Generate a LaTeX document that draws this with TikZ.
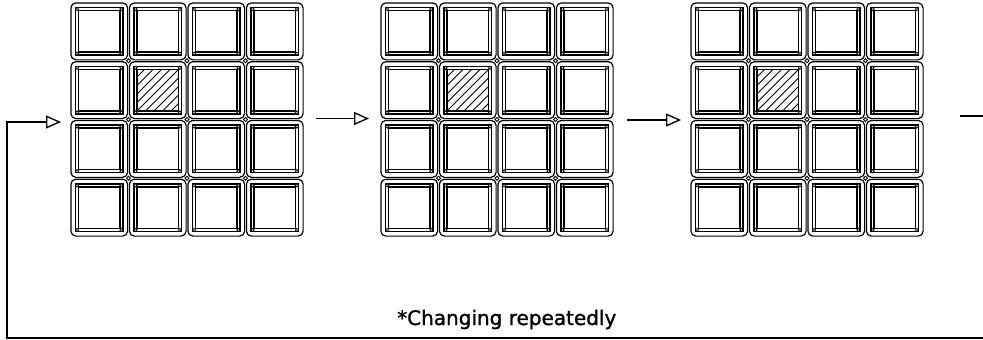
\documentclass[tikz,border=0pt]{standalone}
\usepackage{fontspec}
\newfontfamily\labelfont[FakeBold=1.2]{DejaVu Sans}
\usetikzlibrary{arrows.meta}
\begin{document}
\begin{tikzpicture}[x=1pt,y=-1pt,
  cellout/.style={draw=black,line width=1.2pt,rounded corners=5pt},
  innersq/.style={draw=black,line width=1.5pt},
  cornerdot/.style={draw=black,fill=white,line width=0.8pt},
  joint/.style={draw=black,fill=white,line width=0.9pt},
  hatchline/.style={draw=black,line width=0.9pt},
  flow/.style={line width=1.3pt,-{Triangle[open,length=15pt,width=13pt,line width=1.3pt]}},
  plainline/.style={line width=1.3pt},
  gridbox/.style={minimum width=234pt,minimum height=235pt,inner sep=0pt,outer sep=0pt},
  caption/.style={font=\labelfont\fontsize{20}{24}\selectfont,inner sep=0pt,anchor=base west}]
\useasboundingbox (0,0) rectangle (983,340);

% grid frames (invisible nodes for connectors)
\node[gridbox] (g1) at (187,119.5) {};
\node[gridbox] (g2) at (497,119.5) {};
\node[gridbox] (g3) at (807,119.5) {};

\foreach \ox in {70,380,690}{
  \foreach \i in {0,...,3}{
    \foreach \j in {0,...,3}{
      \pgfmathsetmacro{\cx}{\ox+\i*58.5}
      \pgfmathsetmacro{\cy}{2+\j*58.75}
      \draw[cellout] (\cx+0.9,\cy+0.9) rectangle (\cx+57.6,\cy+57.85);
      \draw[innersq] (\cx+5.6,\cy+5.6) rectangle (\cx+52.9,\cy+53.15);
      \draw[innersq] (\cx+8.6,\cy+8.6) rectangle (\cx+49.9,\cy+50.15);
      \foreach \px/\py in {7.1/7.1,51.4/7.1,7.1/51.65,51.4/51.65}{
        \draw[cornerdot] (\cx+\px,\cy+\py) circle (1.6);
      }
    }
  }
  % hatched cell (column 2, row 2)
  \pgfmathsetmacro{\hx}{\ox+58.5}
  \pgfmathsetmacro{\hy}{2+58.75}
  \begin{scope}
    \clip (\hx+8.6,\hy+8.6) rectangle (\hx+49.9,\hy+50.15);
    \foreach \k in {-6,...,6}{
      \draw[hatchline] (\hx+8.6+\k*8.5,\hy+50.15) -- ++(44,-44);
    }
  \end{scope}
  % junction circles
  \foreach \i in {1,2,3}{
    \foreach \j in {1,2,3}{
      \draw[joint] (\ox+\i*58.5,2+\j*58.75) circle (1.9);
    }
  }
}

% connectors
\coordinate (loopR) at (983,338);
\coordinate (loopBL) at (7,338);
\coordinate (loopTL) at (7,122);
\coordinate (exitR) at (983,116);
\draw[flow] (loopR) -- (loopBL) -- (loopTL) -- ([xshift=-9pt,yshift=-2.5pt]g1.west);
\draw[flow] ([xshift=12pt,yshift=1pt]g1.east) -- ([xshift=-11pt,yshift=1pt]g2.west);
\draw[flow] ([xshift=13pt,yshift=-0.5pt]g2.east) -- ([xshift=-9pt,yshift=-0.5pt]g3.west);
\draw[plainline] ([xshift=36pt]g3.east |- exitR) -- (exitR);

\node[caption] (cap) at (397,325) {*Changing repeatedly};
\end{tikzpicture}
\end{document}
